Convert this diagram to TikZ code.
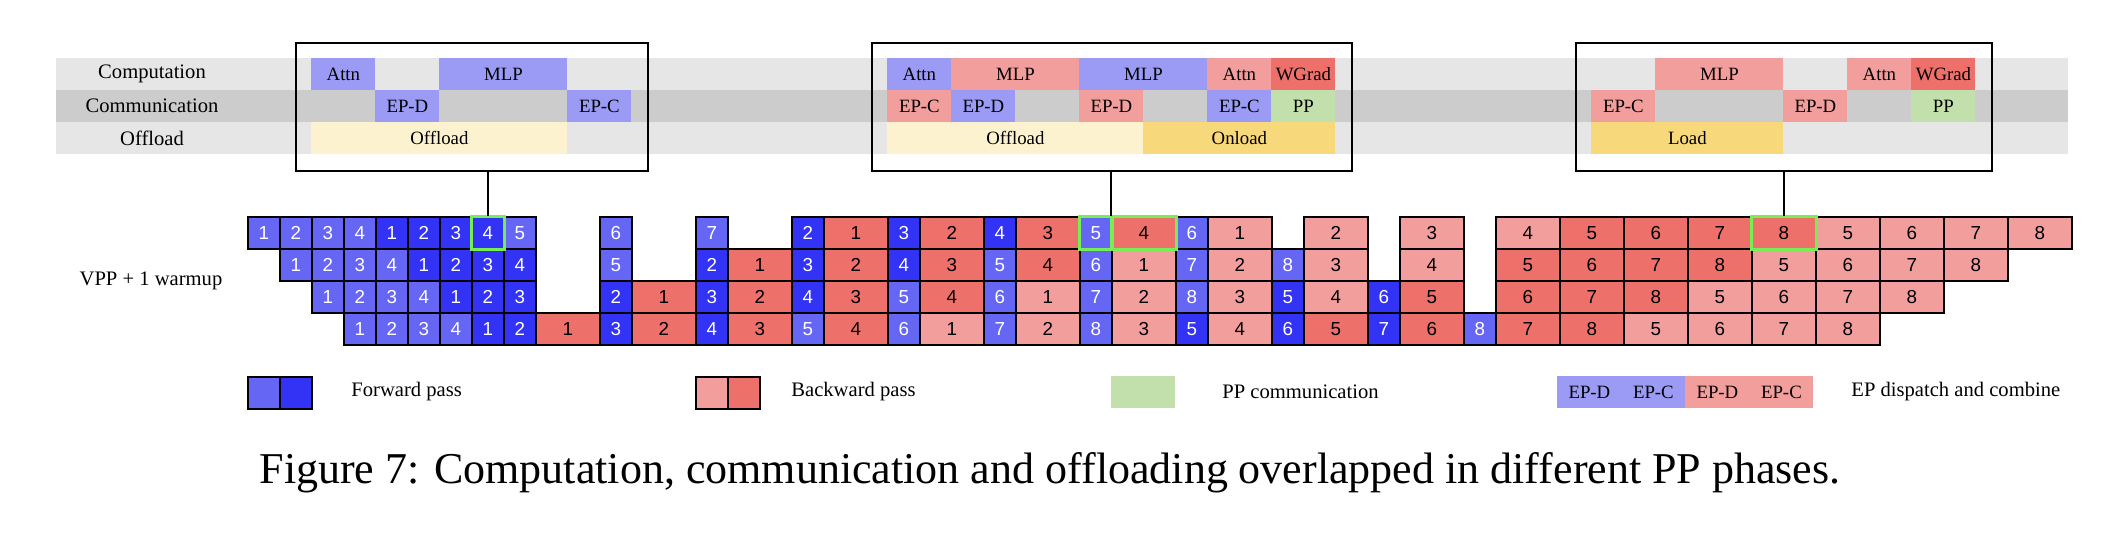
\documentclass[tikz,border=0pt]{standalone}
\usepackage{fontspec}
\setmainfont{Liberation Serif}
\setsansfont{Liberation Sans}
\definecolor{fl}{HTML}{6666F5}
\definecolor{fd}{HTML}{3333F5}
\definecolor{bd}{HTML}{ED706B}
\definecolor{bl}{HTML}{F29E9C}
\definecolor{tb}{HTML}{9B9BF5}
\definecolor{tr}{HTML}{F29E9C}
\definecolor{tg}{HTML}{C2E0AB}
\definecolor{tc}{HTML}{FDF2D0}
\definecolor{ty}{HTML}{F7D87A}
\definecolor{gl}{HTML}{E6E6E6}
\definecolor{gd}{HTML}{CCCCCC}
\definecolor{hl}{HTML}{77EE55}
\newcommand\blk[6]{\node[blk,fill=#5,minimum width={(#3-#2)*16pt}] (#1) at ({247+32*#2},#4) {#6};}
\begin{document}
\begin{tikzpicture}[x=0.5pt,y=-0.5pt,
  cell/.style={draw=black,line width=0.9pt,minimum height=16pt,inner sep=0pt,anchor=north west,font=\sffamily\fontsize{9.4}{11}\selectfont},
  cFl/.style={fill=fl,text=white,minimum width=16pt},
  cFd/.style={fill=fd,text=white,minimum width=16pt},
  cBd/.style={fill=bd,text=black,minimum width=32pt},
  cBl/.style={fill=bl,text=black,minimum width=32pt},
  blk/.style={draw=none,minimum height=16pt,inner sep=0pt,anchor=north west,font=\fontsize{9.4}{11}\selectfont},
  lab/.style={inner sep=0pt,font=\fontsize{10.3}{12}\selectfont},
  topbox/.style={draw=black,line width=0.8pt,inner sep=0pt,anchor=north west,minimum height=64pt},
  conn/.style={draw=black,line width=0.8pt},
  hlbox/.style={draw=hl,line width=1.5pt}]
\useasboundingbox (0,0) rectangle (2110,536);
% bands
\fill[gl] (56,58) rectangle (2068,90);
\fill[gd] (56,90) rectangle (2068,122);
\fill[gl] (56,122) rectangle (2068,154);
\node[lab] (lcomp) at (152,74) {Computation};
\node[lab] (lcomm) at (152,106) {Communication};
\node[lab] (loff) at (152,138) {Offload};
% box 1 contents
\blk{b1a}{2}{4}{58}{tb}{Attn}
\blk{b1b}{6}{10}{58}{tb}{MLP}
\blk{b1c}{4}{6}{90}{tb}{EP-D}
\blk{b1d}{10}{12}{90}{tb}{EP-C}
\blk{b1e}{2}{10}{122}{tc}{Offload}
% box 2 contents
\blk{b2a}{20}{22}{58}{tb}{Attn}
\blk{b2b}{22}{26}{58}{tr}{MLP}
\blk{b2c}{26}{30}{58}{tb}{MLP}
\blk{b2d}{30}{32}{58}{tr}{Attn}
\blk{b2e}{32}{34}{58}{bd}{WGrad}
\blk{b2f}{20}{22}{90}{tr}{EP-C}
\blk{b2g}{22}{24}{90}{tb}{EP-D}
\blk{b2h}{26}{28}{90}{tr}{EP-D}
\blk{b2i}{30}{32}{90}{tb}{EP-C}
\blk{b2j}{32}{34}{90}{tg}{PP}
\blk{b2k}{20}{28}{122}{tc}{Offload}
\blk{b2l}{28}{34}{122}{ty}{Onload}
% box 3 contents
\blk{b3a}{44}{48}{58}{tr}{MLP}
\blk{b3b}{50}{52}{58}{tr}{Attn}
\blk{b3c}{52}{54}{58}{bd}{WGrad}
\blk{b3d}{42}{44}{90}{tr}{EP-C}
\blk{b3e}{48}{50}{90}{tr}{EP-D}
\blk{b3f}{52}{54}{90}{tg}{PP}
\blk{b3g}{42}{48}{122}{ty}{Load}
% boxes
\node[topbox,minimum width=176pt] (box1) at (295,42) {};
\node[topbox,minimum width=240pt] (box2) at (871,42) {};
\node[topbox,minimum width=208pt] (box3) at (1575,42) {};
% grid
\node[lab] (vpp) at (151,281) {VPP + 1 warmup};
\foreach \k/\s/\l in {0/cFl/1, 1/cFl/2, 2/cFl/3, 3/cFl/4, 4/cFd/1, 5/cFd/2, 6/cFd/3, 7/cFd/4, 8/cFl/5, 11/cFl/6, 14/cFl/7, 17/cFd/2, 18/cBd/1, 20/cFd/3, 21/cBd/2, 23/cFd/4, 24/cBd/3, 26/cFl/5, 27/cBd/4, 29/cFl/6, 30/cBl/1, 33/cBl/2, 36/cBl/3, 39/cBl/4, 41/cBd/5, 43/cBd/6, 45/cBd/7, 47/cBd/8, 49/cBl/5, 51/cBl/6, 53/cBl/7, 55/cBl/8}
  {\node[cell,\s] (a1-\k) at ({247+32*\k},216) {\l};}
\foreach \k/\s/\l in {1/cFl/1, 2/cFl/2, 3/cFl/3, 4/cFl/4, 5/cFd/1, 6/cFd/2, 7/cFd/3, 8/cFd/4, 11/cFl/5, 14/cFd/2, 15/cBd/1, 17/cFd/3, 18/cBd/2, 20/cFd/4, 21/cBd/3, 23/cFl/5, 24/cBd/4, 26/cFl/6, 27/cBl/1, 29/cFl/7, 30/cBl/2, 32/cFl/8, 33/cBl/3, 36/cBl/4, 39/cBd/5, 41/cBd/6, 43/cBd/7, 45/cBd/8, 47/cBl/5, 49/cBl/6, 51/cBl/7, 53/cBl/8}
  {\node[cell,\s] (a2-\k) at ({247+32*\k},248) {\l};}
\foreach \k/\s/\l in {2/cFl/1, 3/cFl/2, 4/cFl/3, 5/cFl/4, 6/cFd/1, 7/cFd/2, 8/cFd/3, 11/cFd/2, 12/cBd/1, 14/cFd/3, 15/cBd/2, 17/cFd/4, 18/cBd/3, 20/cFl/5, 21/cBd/4, 23/cFl/6, 24/cBl/1, 26/cFl/7, 27/cBl/2, 29/cFl/8, 30/cBl/3, 32/cFd/5, 33/cBl/4, 35/cFd/6, 36/cBd/5, 39/cBd/6, 41/cBd/7, 43/cBd/8, 45/cBl/5, 47/cBl/6, 49/cBl/7, 51/cBl/8}
  {\node[cell,\s] (a3-\k) at ({247+32*\k},280) {\l};}
\foreach \k/\s/\l in {3/cFl/1, 4/cFl/2, 5/cFl/3, 6/cFl/4, 7/cFd/1, 8/cFd/2, 9/cBd/1, 11/cFd/3, 12/cBd/2, 14/cFd/4, 15/cBd/3, 17/cFl/5, 18/cBd/4, 20/cFl/6, 21/cBl/1, 23/cFl/7, 24/cBl/2, 26/cFl/8, 27/cBl/3, 29/cFd/5, 30/cBl/4, 32/cFd/6, 33/cBd/5, 35/cFd/7, 36/cBd/6, 38/cFl/8, 39/cBd/7, 41/cBd/8, 43/cBl/5, 45/cBl/6, 47/cBl/7, 49/cBl/8}
  {\node[cell,\s] (a4-\k) at ({247+32*\k},312) {\l};}
% highlights
\draw[hlbox] (a1-7.north west) rectangle (a1-7.south east);
\draw[hlbox] (a1-26.north west) rectangle (a1-26.south east);
\draw[hlbox] (a1-27.north west) rectangle (a1-27.south east);
\draw[hlbox] (a1-47.north west) rectangle (a1-47.south east);
% connectors
\draw[conn] (box1.south -| a1-7.north) -- (a1-7.north);
\draw[conn] (box2.south -| a1-27.north west) -- (a1-27.north west);
\draw[conn] (box3.south -| a1-47.north) -- (a1-47.north);
% legend
\node[cell,cFl] (lf1) at (247,376) {};
\node[cell,cFd] (lf2) at (279,376) {};
\node[lab,anchor=west] (lft) at (351,392) {Forward pass};
\node[cell,fill=bl,minimum width=16pt] (lb1) at (695,376) {};
\node[cell,fill=bd,minimum width=16pt] (lb2) at (727,376) {};
\node[lab,anchor=west] (lbt) at (791,392) {Backward pass};
\node[blk,fill=tg,minimum width=32pt] (lpp) at (1111,376) {};
\node[lab,anchor=west] (lppt) at (1222,392) {PP communication};
\node[blk,fill=tb,minimum width=32pt] (le1) at (1557,376) {EP-D};
\node[blk,fill=tb,minimum width=32pt] (le2) at (1621,376) {EP-C};
\node[blk,fill=tr,minimum width=32pt] (le3) at (1685,376) {EP-D};
\node[blk,fill=tr,minimum width=32pt] (le4) at (1749,376) {EP-C};
\node[lab,anchor=west] (let) at (1851,392) {EP dispatch and combine};
% caption
\node[inner sep=0pt,anchor=base,font=\fontsize{22}{26}\selectfont] (cap) at (1050,483) {Figure 7: Computation, communication and offloading overlapped in different PP phases.};
\end{tikzpicture}
\end{document}
